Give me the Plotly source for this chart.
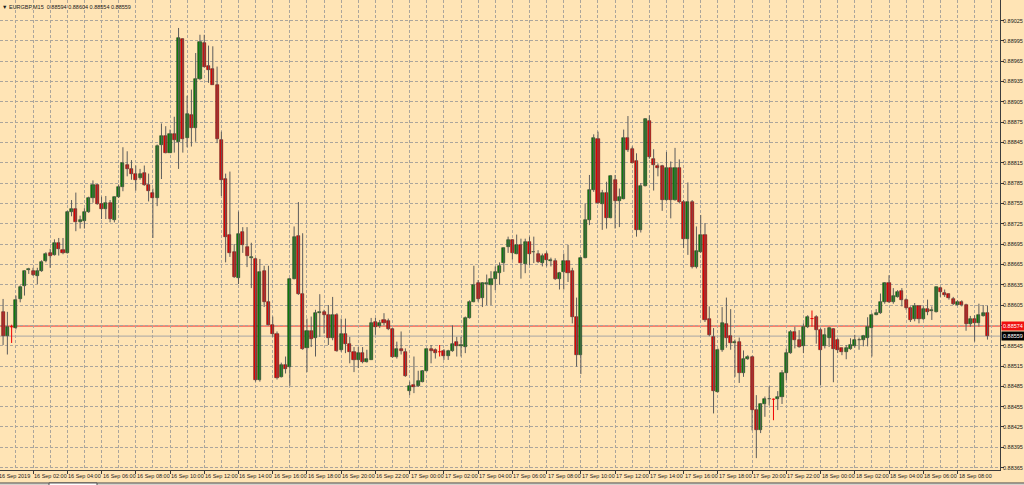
import plotly.graph_objects as go

# ---------------- data (EURGBP, M15, bars from 16 Sep 2019 00:15) ----------------
opens = [0.88595,0.88560,0.88573,0.88571,0.88614,0.88633,0.88657,0.88656,0.88648,0.88656,
         0.88670,0.88682,0.88679,0.88697,0.88687,0.88682,0.88742,0.88747,0.88727,0.88729,
         0.88743,0.88763,0.88782,0.88754,0.88747,0.88756,0.88731,0.88764,0.88779,0.88812,
         0.88806,0.88799,0.88792,0.88800,0.88782,0.88771,0.88763,0.88842,0.88855,0.88830,
         0.88858,0.88846,0.88998,0.88851,0.88886,0.88867,0.88938,0.88992,0.88958,0.88953,
         0.88930,0.88849,0.88791,0.88708,0.88683,0.88645,0.88713,0.88690,0.88675,0.88673,
         0.88494,0.88655,0.88609,0.88576,0.88562,0.88499,0.88517,0.88513,0.88644,0.88707,
         0.88621,0.88541,0.88567,0.88556,0.88594,0.88595,0.88591,0.88557,0.88591,0.88539,
         0.88562,0.88547,0.88535,0.88524,0.88534,0.88521,0.88524,0.88580,0.88574,0.88583,
         0.88582,0.88569,0.88529,0.88540,0.88536,0.88478,0.88487,0.88485,0.88492,0.88508,
         0.88540,0.88539,0.88536,0.88537,0.88530,0.88537,0.88550,0.88544,0.88543,0.88586,
         0.88610,0.88637,0.88616,0.88636,0.88635,0.88643,0.88653,0.88667,0.88690,0.88701,
         0.88681,0.88693,0.88666,0.88698,0.88683,0.88681,0.88667,0.88680,0.88670,0.88670,
         0.88643,0.88654,0.88670,0.88655,0.88588,0.88532,0.88675,0.88731,0.88775,0.88850,
         0.88754,0.88770,0.88734,0.88790,0.88758,0.88762,0.88852,0.88836,0.88817,0.88716,
         0.88781,0.88877,0.88820,0.88811,0.88810,0.88760,0.88808,0.88760,0.88808,0.88757,
         0.88703,0.88757,0.88661,0.88684,0.88708,0.88584,0.88558,0.88477,0.88538,0.88577,
         0.88559,0.88549,0.88551,0.88504,0.88525,0.88529,0.88450,0.88420,0.88459,0.88466,
         0.88466,0.88466,0.88470,0.88505,0.88534,0.88565,0.88553,0.88544,0.88573,0.88585,
         0.88587,0.88568,0.88544,0.88556,0.88569,0.88553,0.88541,0.88535,0.88540,0.88544,
         0.88553,0.88553,0.88557,0.88571,0.88591,0.88593,0.88609,0.88638,0.88610,0.88617,
         0.88626,0.88612,0.88600,0.88584,0.88604,0.88584,0.88599,0.88596,0.88595,0.88630,
         0.88623,0.88621,0.88614,0.88605,0.88609,0.88605,0.88577,0.88585,0.88578,0.88589,
         0.88594]
highs = [0.88614,0.88595,0.88576,0.88619,0.88634,0.88656,0.88660,0.88660,0.88660,0.88671,
         0.88683,0.88688,0.88702,0.88704,0.88704,0.88744,0.88760,0.88771,0.88737,0.88748,
         0.88765,0.88789,0.88784,0.88765,0.88766,0.88760,0.88765,0.88783,0.88838,0.88832,
         0.88819,0.88811,0.88806,0.88811,0.88799,0.88777,0.88842,0.88873,0.88869,0.88864,
         0.88883,0.89014,0.88999,0.88914,0.88923,0.88977,0.89004,0.89004,0.88988,0.88987,
         0.88957,0.88861,0.88799,0.88802,0.88695,0.88743,0.88720,0.88720,0.88697,0.88675,
         0.88673,0.88663,0.88663,0.88588,0.88566,0.88520,0.88529,0.88645,0.88721,0.88757,
         0.88711,0.88585,0.88588,0.88598,0.88621,0.88598,0.88605,0.88617,0.88593,0.88585,
         0.88585,0.88558,0.88543,0.88543,0.88543,0.88539,0.88586,0.88586,0.88583,0.88593,
         0.88585,0.88571,0.88551,0.88566,0.88541,0.88492,0.88529,0.88508,0.88509,0.88541,
         0.88546,0.88541,0.88546,0.88540,0.88539,0.88575,0.88558,0.88558,0.88588,0.88612,
         0.88663,0.88642,0.88639,0.88650,0.88655,0.88662,0.88668,0.88690,0.88706,0.88702,
         0.88709,0.88703,0.88703,0.88706,0.88706,0.88686,0.88681,0.88684,0.88675,0.88674,
         0.88654,0.88681,0.88694,0.88660,0.88616,0.88676,0.88755,0.88797,0.88857,0.88861,
         0.88775,0.88787,0.88797,0.88797,0.88777,0.88864,0.88884,0.88839,0.88829,0.88785,
         0.88881,0.88885,0.88835,0.88814,0.88812,0.88831,0.88817,0.88837,0.88820,0.88760,
         0.88786,0.88760,0.88721,0.88738,0.88726,0.88603,0.88571,0.88541,0.88602,0.88616,
         0.88599,0.88554,0.88557,0.88538,0.88531,0.88530,0.88472,0.88460,0.88470,0.88485,
         0.88467,0.88478,0.88509,0.88541,0.88568,0.88573,0.88568,0.88578,0.88590,0.88597,
         0.88590,0.88571,0.88571,0.88573,0.88571,0.88556,0.88542,0.88546,0.88556,0.88561,
         0.88557,0.88561,0.88587,0.88593,0.88599,0.88622,0.88639,0.88649,0.88630,0.88627,
         0.88630,0.88615,0.88603,0.88608,0.88605,0.88603,0.88613,0.88603,0.88632,0.88632,
         0.88628,0.88622,0.88617,0.88612,0.88612,0.88607,0.88589,0.88590,0.88607,0.88605,
         0.88604]
lows = [0.88546,0.88532,0.88549,0.88569,0.88609,0.88619,0.88651,0.88648,0.88636,0.88654,
        0.88668,0.88660,0.88678,0.88678,0.88680,0.88681,0.88736,0.88714,0.88718,0.88718,
        0.88741,0.88756,0.88753,0.88732,0.88732,0.88727,0.88727,0.88763,0.88773,0.88795,
        0.88790,0.88774,0.88790,0.88781,0.88758,0.88704,0.88751,0.88791,0.88829,0.88830,
        0.88830,0.88806,0.88830,0.88838,0.88839,0.88846,0.88937,0.88956,0.88933,0.88930,
        0.88844,0.88766,0.88668,0.88676,0.88645,0.88636,0.88682,0.88661,0.88630,0.88492,
        0.88492,0.88602,0.88575,0.88558,0.88495,0.88498,0.88504,0.88486,0.88643,0.88620,
        0.88539,0.88506,0.88543,0.88529,0.88558,0.88563,0.88546,0.88553,0.88536,0.88536,
        0.88534,0.88519,0.88506,0.88512,0.88519,0.88520,0.88524,0.88561,0.88571,0.88575,
        0.88568,0.88527,0.88526,0.88532,0.88499,0.88472,0.88475,0.88484,0.88491,0.88507,
        0.88519,0.88526,0.88529,0.88524,0.88524,0.88536,0.88529,0.88529,0.88534,0.88585,
        0.88609,0.88610,0.88602,0.88605,0.88605,0.88627,0.88635,0.88654,0.88682,0.88672,
        0.88680,0.88644,0.88652,0.88664,0.88667,0.88667,0.88662,0.88662,0.88662,0.88642,
        0.88628,0.88628,0.88639,0.88578,0.88514,0.88503,0.88674,0.88723,0.88772,0.88754,
        0.88716,0.88718,0.88733,0.88718,0.88720,0.88761,0.88831,0.88814,0.88706,0.88712,
        0.88780,0.88821,0.88774,0.88795,0.88744,0.88759,0.88733,0.88759,0.88755,0.88689,
        0.88679,0.88659,0.88659,0.88682,0.88580,0.88559,0.88445,0.88476,0.88536,0.88542,
        0.88539,0.88499,0.88490,0.88499,0.88524,0.88420,0.88379,0.88416,0.88440,0.88457,
        0.88435,0.88450,0.88459,0.88494,0.88533,0.88541,0.88542,0.88534,0.88571,0.88573,
        0.88548,0.88487,0.88541,0.88543,0.88491,0.88534,0.88531,0.88525,0.88539,0.88542,
        0.88539,0.88544,0.88544,0.88529,0.88590,0.88592,0.88607,0.88608,0.88607,0.88616,
        0.88603,0.88598,0.88580,0.88581,0.88578,0.88583,0.88590,0.88583,0.88594,0.88617,
        0.88617,0.88613,0.88605,0.88604,0.88603,0.88567,0.88573,0.88551,0.88573,0.88588,
        0.88554]
closes = [0.88559,0.88573,0.88573,0.88613,0.88632,0.88655,0.88658,0.88649,0.88656,0.88668,
          0.88680,0.88678,0.88697,0.88688,0.88682,0.88743,0.88747,0.88727,0.88731,0.88742,
          0.88763,0.88782,0.88754,0.88747,0.88756,0.88732,0.88764,0.88779,0.88814,0.88806,
          0.88798,0.88790,0.88799,0.88782,0.88773,0.88763,0.88840,0.88855,0.88830,0.88858,
          0.88849,0.88999,0.88850,0.88887,0.88867,0.88938,0.88994,0.88957,0.88952,0.88930,
          0.88850,0.88789,0.88706,0.88682,0.88646,0.88710,0.88693,0.88678,0.88676,0.88494,
          0.88654,0.88610,0.88576,0.88562,0.88498,0.88517,0.88511,0.88644,0.88706,0.88621,
          0.88540,0.88567,0.88555,0.88594,0.88595,0.88591,0.88556,0.88590,0.88537,0.88562,
          0.88547,0.88535,0.88524,0.88534,0.88521,0.88525,0.88579,0.88573,0.88579,0.88579,
          0.88570,0.88529,0.88540,0.88537,0.88500,0.88485,0.88484,0.88493,0.88507,0.88540,
          0.88537,0.88534,0.88536,0.88530,0.88537,0.88548,0.88544,0.88546,0.88586,0.88610,
          0.88635,0.88614,0.88637,0.88637,0.88643,0.88654,0.88663,0.88689,0.88701,0.88682,
          0.88694,0.88667,0.88698,0.88681,0.88684,0.88669,0.88678,0.88671,0.88671,0.88643,
          0.88652,0.88670,0.88653,0.88588,0.88532,0.88675,0.88731,0.88775,0.88851,0.88755,
          0.88770,0.88734,0.88795,0.88759,0.88764,0.88851,0.88834,0.88815,0.88716,0.88781,
          0.88880,0.88823,0.88812,0.88808,0.88760,0.88807,0.88760,0.88808,0.88757,0.88703,
          0.88757,0.88661,0.88685,0.88708,0.88583,0.88561,0.88478,0.88538,0.88578,0.88557,
          0.88549,0.88550,0.88504,0.88525,0.88529,0.88450,0.88420,0.88459,0.88466,0.88467,
          0.88466,0.88470,0.88505,0.88534,0.88565,0.88554,0.88543,0.88573,0.88587,0.88585,
          0.88568,0.88538,0.88561,0.88571,0.88540,0.88539,0.88536,0.88542,0.88546,0.88553,
          0.88554,0.88559,0.88573,0.88590,0.88594,0.88609,0.88638,0.88610,0.88618,0.88625,
          0.88612,0.88600,0.88583,0.88603,0.88584,0.88599,0.88595,0.88597,0.88631,0.88624,
          0.88620,0.88615,0.88606,0.88610,0.88605,0.88577,0.88584,0.88579,0.88590,0.88594,
          0.88559]
bar_index = list(range(1, len(opens) + 1))   # bar 0 = 16 Sep 2019 00:00, one bar = 15 min

x_labels = ["16 Sep 2019", "16 Sep 02:00", "16 Sep 04:00", "16 Sep 06:00", "16 Sep 08:00",
            "16 Sep 10:00", "16 Sep 12:00", "16 Sep 14:00", "16 Sep 16:00", "16 Sep 18:00",
            "16 Sep 20:00", "16 Sep 22:00", "17 Sep 00:00", "17 Sep 02:00", "17 Sep 04:00",
            "17 Sep 06:00", "17 Sep 08:00", "17 Sep 10:00", "17 Sep 12:00", "17 Sep 14:00",
            "17 Sep 16:00", "17 Sep 18:00", "17 Sep 20:00", "17 Sep 22:00", "18 Sep 00:00",
            "18 Sep 02:00", "18 Sep 04:00", "18 Sep 06:00", "18 Sep 08:00"]
x_label_bars = [8 * k for k in range(len(x_labels))]   # one label every 2 hours

price_ticks = [0.89025, 0.88995, 0.88965, 0.88935, 0.88905, 0.88875, 0.88845, 0.88815,
               0.88785, 0.88755, 0.88725, 0.88695, 0.88665, 0.88635, 0.88605, 0.88575,
               0.88545, 0.88515, 0.88485, 0.88455, 0.88425, 0.88395, 0.88365]
price_labels = ["0.89025", "0.88995", "0.88965", "0.88935", "0.88905", "0.88875", "0.88845",
                "0.88815", "0.88785", "0.88755", "0.88725", "0.88695", "0.88665", "0.88635",
                "0.88605", "", "0.88545", "0.88515", "0.88485", "0.88455", "0.88425",
                "0.88395", "0.88365"]

ask_price = 0.88574
bid_price = 0.88559
title_text = "EURGBP,M15  0.88594 0.88604 0.88554 0.88559"

# ---------------- styling ----------------
BG = "#FFE4B5"
GRID = "#ABA59C"
AXIS = "#3C3C3C"
UP = "#0A820A"
DOWN = "#F00000"
WICK = "#5C5C5C"
FONT = "Liberation Sans"
FS = 5.5
X_START = 0.28   # left edge of the visible bar range

fig = go.Figure()

# wicks
wx, wy, dx, dy = [], [], [], []
for i, o, h, l, c in zip(bar_index, opens, highs, lows, closes):
    if o == c:
        dx += [i, i, None]
        dy += [l, h, None]
    else:
        wx += [i, i, None]
        wy += [l, h, None]
fig.add_trace(go.Scatter(x=wx, y=wy, mode="lines", line=dict(color=WICK, width=1),
                         hoverinfo="skip", showlegend=False))
fig.add_trace(go.Scatter(x=dx, y=dy, mode="lines", line=dict(color=DOWN, width=1),
                         hoverinfo="skip", showlegend=False))

# bodies
ux = [i for i, o, c in zip(bar_index, opens, closes) if c > o]
ub = [o for o, c in zip(opens, closes) if c > o]
uh = [c - o for o, c in zip(opens, closes) if c > o]
rx = [i for i, o, c in zip(bar_index, opens, closes) if c < o]
rb = [c for o, c in zip(opens, closes) if c < o]
rh = [o - c for o, c in zip(opens, closes) if c < o]
fig.add_trace(go.Bar(x=ux, y=uh, base=ub, width=0.72,
                     marker=dict(color=UP, line=dict(color="#1E3A1E", width=0.6)),
                     hoverinfo="skip", showlegend=False))
fig.add_trace(go.Bar(x=rx, y=rh, base=rb, width=0.72,
                     marker=dict(color=DOWN, line=dict(color="#5A1010", width=0.6)),
                     hoverinfo="skip", showlegend=False))

# doji ticks
tx, ty = [], []
for i, o, c in zip(bar_index, opens, closes):
    if o == c:
        tx += [i - 0.38, i + 0.38, None]
        ty += [o, o, None]
fig.add_trace(go.Scatter(x=tx, y=ty, mode="lines", line=dict(color=DOWN, width=1),
                         hoverinfo="skip", showlegend=False))

# price lines
fig.add_shape(type="line", xref="paper", x0=0, x1=1, yref="y", y0=bid_price, y1=bid_price,
              line=dict(color="#B8B2A8", width=1.2), layer="between")
fig.add_shape(type="line", xref="paper", x0=0, x1=1, yref="y", y0=ask_price, y1=ask_price,
              line=dict(color="#F03030", width=1), layer="between")

# x labels (left aligned just after their tick); the first one starts just off the left edge
for lab, b in zip(x_labels, x_label_bars):
    if b < X_START:
        fig.add_annotation(x=0, xref="paper", y=-0.0128, yref="paper", yanchor="middle",
                           xanchor="left", text=lab, showarrow=False, xshift=-2,
                           borderpad=0, font=dict(family=FONT, size=FS, color="#1A1A1A"))
    else:
        fig.add_annotation(x=b, xref="x", y=-0.0128, yref="paper", yanchor="middle",
                           xanchor="left", text=lab, showarrow=False, xshift=0,
                           borderpad=0, font=dict(family=FONT, size=FS, color="#1A1A1A"))

# price scale labels
for lab, p in zip(price_labels, price_ticks):
    if lab:
        fig.add_annotation(x=1, xref="paper", y=p, yref="y", xanchor="left",
                           yanchor="middle", text=lab, showarrow=False, xshift=2,
                           borderpad=0, font=dict(family=FONT, size=FS, color="#1A1A1A"))

# price boxes on the right scale
fig.add_annotation(x=1, xref="paper", y=ask_price, yref="y", xanchor="left", yanchor="middle",
                   text="0.88574", showarrow=False, xshift=1, bgcolor="#F01010",
                   borderpad=1, font=dict(family=FONT, size=FS, color="white"))
fig.add_annotation(x=1, xref="paper", y=bid_price, yref="y", xanchor="left", yanchor="middle",
                   text="0.88559", showarrow=False, xshift=1, bgcolor="#000000",
                   borderpad=1, font=dict(family=FONT, size=FS, color="white"))

# title
fig.add_annotation(x=0, xref="paper", y=1, yref="paper", xanchor="left", yanchor="top",
                   text="\u25BC " + title_text, showarrow=False, xshift=1, yshift=-3,
                   borderpad=0, font=dict(family=FONT, size=FS, color="#1A1A1A"))

# bottom tab strip
fig.add_shape(type="rect", xref="paper", yref="paper", x0=-0.01, x1=1.03,
              y0=-0.0276, y1=-0.045, fillcolor="#D8D4CC", line=dict(width=0), layer="above")
fig.add_shape(type="line", xref="paper", yref="paper", x0=-0.01, x1=1.03,
              y0=-0.0276, y1=-0.0276, line=dict(color="#505050", width=1), layer="above")
fig.add_shape(type="rect", xref="paper", yref="paper", x0=0.049, x1=0.097,
              y0=-0.0276, y1=-0.045, fillcolor="#FFFFFF", line=dict(color="#505050", width=1),
              layer="above")

fig.update_layout(
    width=1024, height=485, autosize=False,
    margin=dict(l=0, r=24, t=0, b=15, pad=0, autoexpand=False),
    paper_bgcolor=BG, plot_bgcolor=BG,
    barmode="overlay", bargap=0, showlegend=False,
    hovermode=False,
    xaxis=dict(range=[X_START, 233.93], tickvals=x_label_bars, ticks="outside", ticklen=3,
               tickcolor=AXIS, showticklabels=False, showgrid=True, gridcolor=GRID,
               gridwidth=1, griddash="3px,2px",
               minor=dict(tick0=0, dtick=4, showgrid=True, gridcolor=GRID, gridwidth=1,
                          griddash="3px,2px"),
               showline=True, linecolor=AXIS, linewidth=1, zeroline=False, fixedrange=True),
    yaxis=dict(side="right", range=[0.883615, 0.890553], tickvals=price_ticks,
               ticks="outside", ticklen=3, tickcolor=AXIS, showticklabels=False,
               showgrid=True, gridcolor=GRID, gridwidth=1, griddash="3px,2px",
               showline=True, linecolor=AXIS, linewidth=1, zeroline=False, fixedrange=True),
)

fig.write_html(
    "out.html",
    config={"displayModeBar": False},
    post_script="document.body.style.margin='0px';document.body.style.overflow='hidden';"
                "document.body.style.background='" + BG + "';",
)
